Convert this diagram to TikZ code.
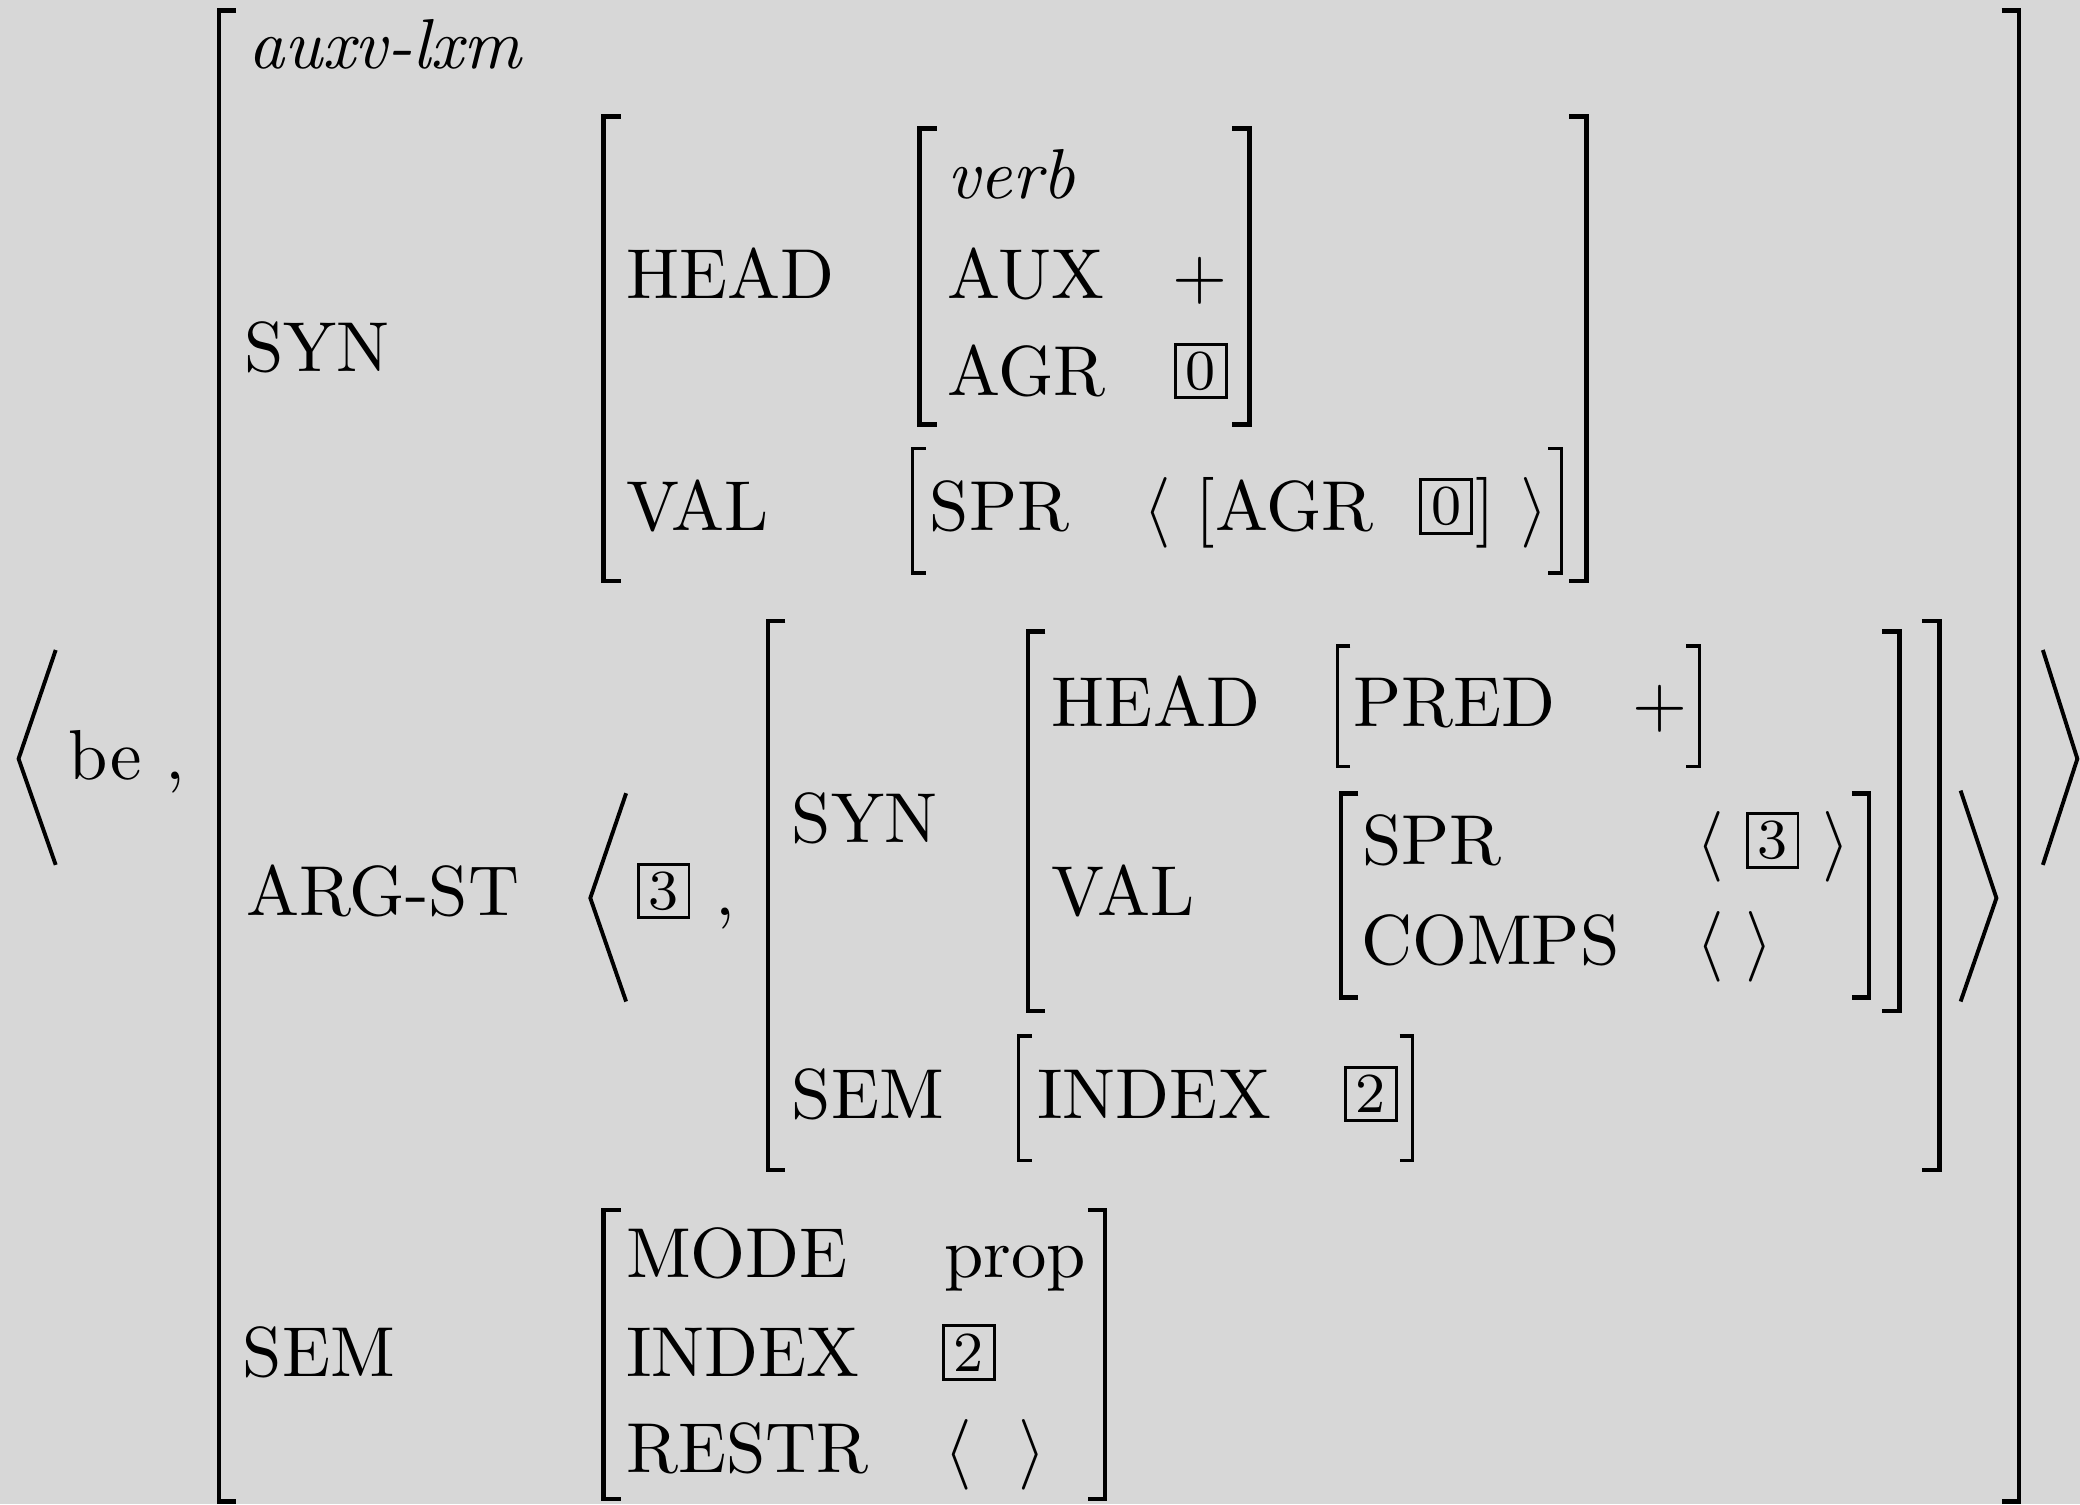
\documentclass[tikz,border=0pt]{standalone}
\usepackage{tikz}
\usepackage{xcolor}
\definecolor{paper}{RGB}{215,215,215}

\begin{document}
\begin{tikzpicture}[x=0.1876pt, y=-0.1876pt,
  lbl/.style = {anchor=base west, inner sep=0pt, outer sep=0pt},
  tag/.style = {draw, line width=0.4pt, anchor=south west, inner sep=0pt, minimum width=7.2pt, minimum height=7.6pt, font=\footnotesize},
  thickbr/.style = {line width=0.65pt},
  thinbr/.style = {line width=0.45pt},
  angbr/.style = {line width=0.55pt, line join=miter}]
  \fill[paper] (0,0) rectangle (1568,1134);
  \useasboundingbox (0,0) rectangle (1568,1134);
  % the word
  \node[lbl] (be) at (52,588) {be};
  \node[lbl] (becomma) at (125,588) {,};
  % outer avm
  \node[lbl] (type) at (187,52) {\textit{auxv-lxm}};
  \node[lbl] (syn) at (184,280) {SYN};
  \node[lbl] (head) at (472,225) {HEAD};
  \node[lbl] (verb) at (714,150) {\textit{verb}};
  \node[lbl] (aux) at (714,225) {AUX};
  \node[lbl] (auxval) at (884,225) {$+$};
  \node[lbl] (agr) at (714,298) {AGR};
  \node[tag] (agrtag) at (885,301) {0};
  \node[lbl] (val) at (472,400) {VAL};
  \node[lbl] (spr) at (701,400) {SPR};
  \node[lbl] (sprl) at (862,400) {$\langle$};
  \node[lbl] (sprlb) at (901,400) {$[$};
  \node[lbl] (spragr) at (916,400) {AGR};
  \node[tag] (sprtag) at (1070,403) {0};
  \node[lbl] (sprrb) at (1112,400) {$]$};
  \node[lbl] (sprr) at (1146,400) {$\rangle$};
  % arg-st
  \node[lbl] (argst) at (186,690) {ARG-ST};
  \node[tag] (argtag) at (480,693) {3};
  \node[lbl] (argcomma) at (539,690) {,};
  \node[lbl] (syn2) at (597,635) {SYN};
  \node[lbl] (head2) at (793,548) {HEAD};
  \node[lbl] (pred) at (1020,548) {PRED};
  \node[lbl] (predval) at (1231,548) {$+$};
  \node[lbl] (val2) at (793,690) {VAL};
  \node[lbl] (spr2) at (1027,652) {SPR};
  \node[lbl] (spr2l) at (1279,652) {$\langle$};
  \node[tag] (spr2tag) at (1316,655) {3};
  \node[lbl] (spr2r) at (1374,652) {$\rangle$};
  \node[lbl] (comps) at (1026,727) {COMPS};
  \node[lbl] (compsl) at (1279,727) {$\langle$};
  \node[lbl] (compsr) at (1316,727) {$\rangle$};
  \node[lbl] (sem2) at (597,843) {SEM};
  \node[lbl] (index2) at (782,843) {INDEX};
  \node[tag] (index2tag) at (1013,846) {2};
  % sem
  \node[lbl] (sem) at (183,1038) {SEM};
  \node[lbl] (mode) at (472,963) {MODE};
  \node[lbl] (modeval) at (712,963) {prop};
  \node[lbl] (index) at (472,1038) {INDEX};
  \node[tag] (indextag) at (710,1041) {2};
  \node[lbl] (restr) at (472,1110) {RESTR};
  \node[lbl] (restrl) at (712,1110) {$\langle$};
  \node[lbl] (restrr) at (768,1110) {$\rangle$};
  % brackets
  \draw[thickbr] (178,8) -| (165,1132) -- (178,1132);
  \draw[thickbr] (1509,8) -| (1522,1132) -- (1509,1132);
  \draw[thickbr] (468,88) -| (455,438) -- (468,438);
  \draw[thickbr] (1183,88) -| (1196,438) -- (1183,438);
  \draw[thickbr] (706,97) -| (693,320) -- (706,320);
  \draw[thickbr] (929,97) -| (942,320) -- (929,320);
  \draw[thinbr] (698,338) -| (688,432) -- (698,432);
  \draw[thinbr] (1167,338) -| (1177,432) -- (1167,432);
  \draw[thickbr] (592,468) -| (579,882) -- (592,882);
  \draw[thickbr] (1449,468) -| (1462,882) -- (1449,882);
  \draw[thickbr] (788,476) -| (775,762) -- (788,762);
  \draw[thickbr] (1419,476) -| (1432,762) -- (1419,762);
  \draw[thinbr] (1018,487) -| (1008,578) -- (1018,578);
  \draw[thinbr] (1271,487) -| (1281,578) -- (1271,578);
  \draw[thickbr] (1024,598) -| (1011,752) -- (1024,752);
  \draw[thickbr] (1396,598) -| (1409,752) -- (1396,752);
  \draw[thinbr] (778,781) -| (768,875) -- (778,875);
  \draw[thinbr] (1055,781) -| (1065,875) -- (1055,875);
  \draw[thickbr] (468,912) -| (455,1130) -- (468,1130);
  \draw[thickbr] (820,912) -| (833,1130) -- (820,1130);
  % angle brackets
  \draw[angbr] (42,490) -- (14,572) -- (42,652);
  \draw[angbr] (1540,490) -- (1566,572) -- (1540,652);
  \draw[angbr] (472,598) -- (445,677) -- (472,755);
  \draw[angbr] (1478,596) -- (1505,677) -- (1478,755);
\end{tikzpicture}
\end{document}
